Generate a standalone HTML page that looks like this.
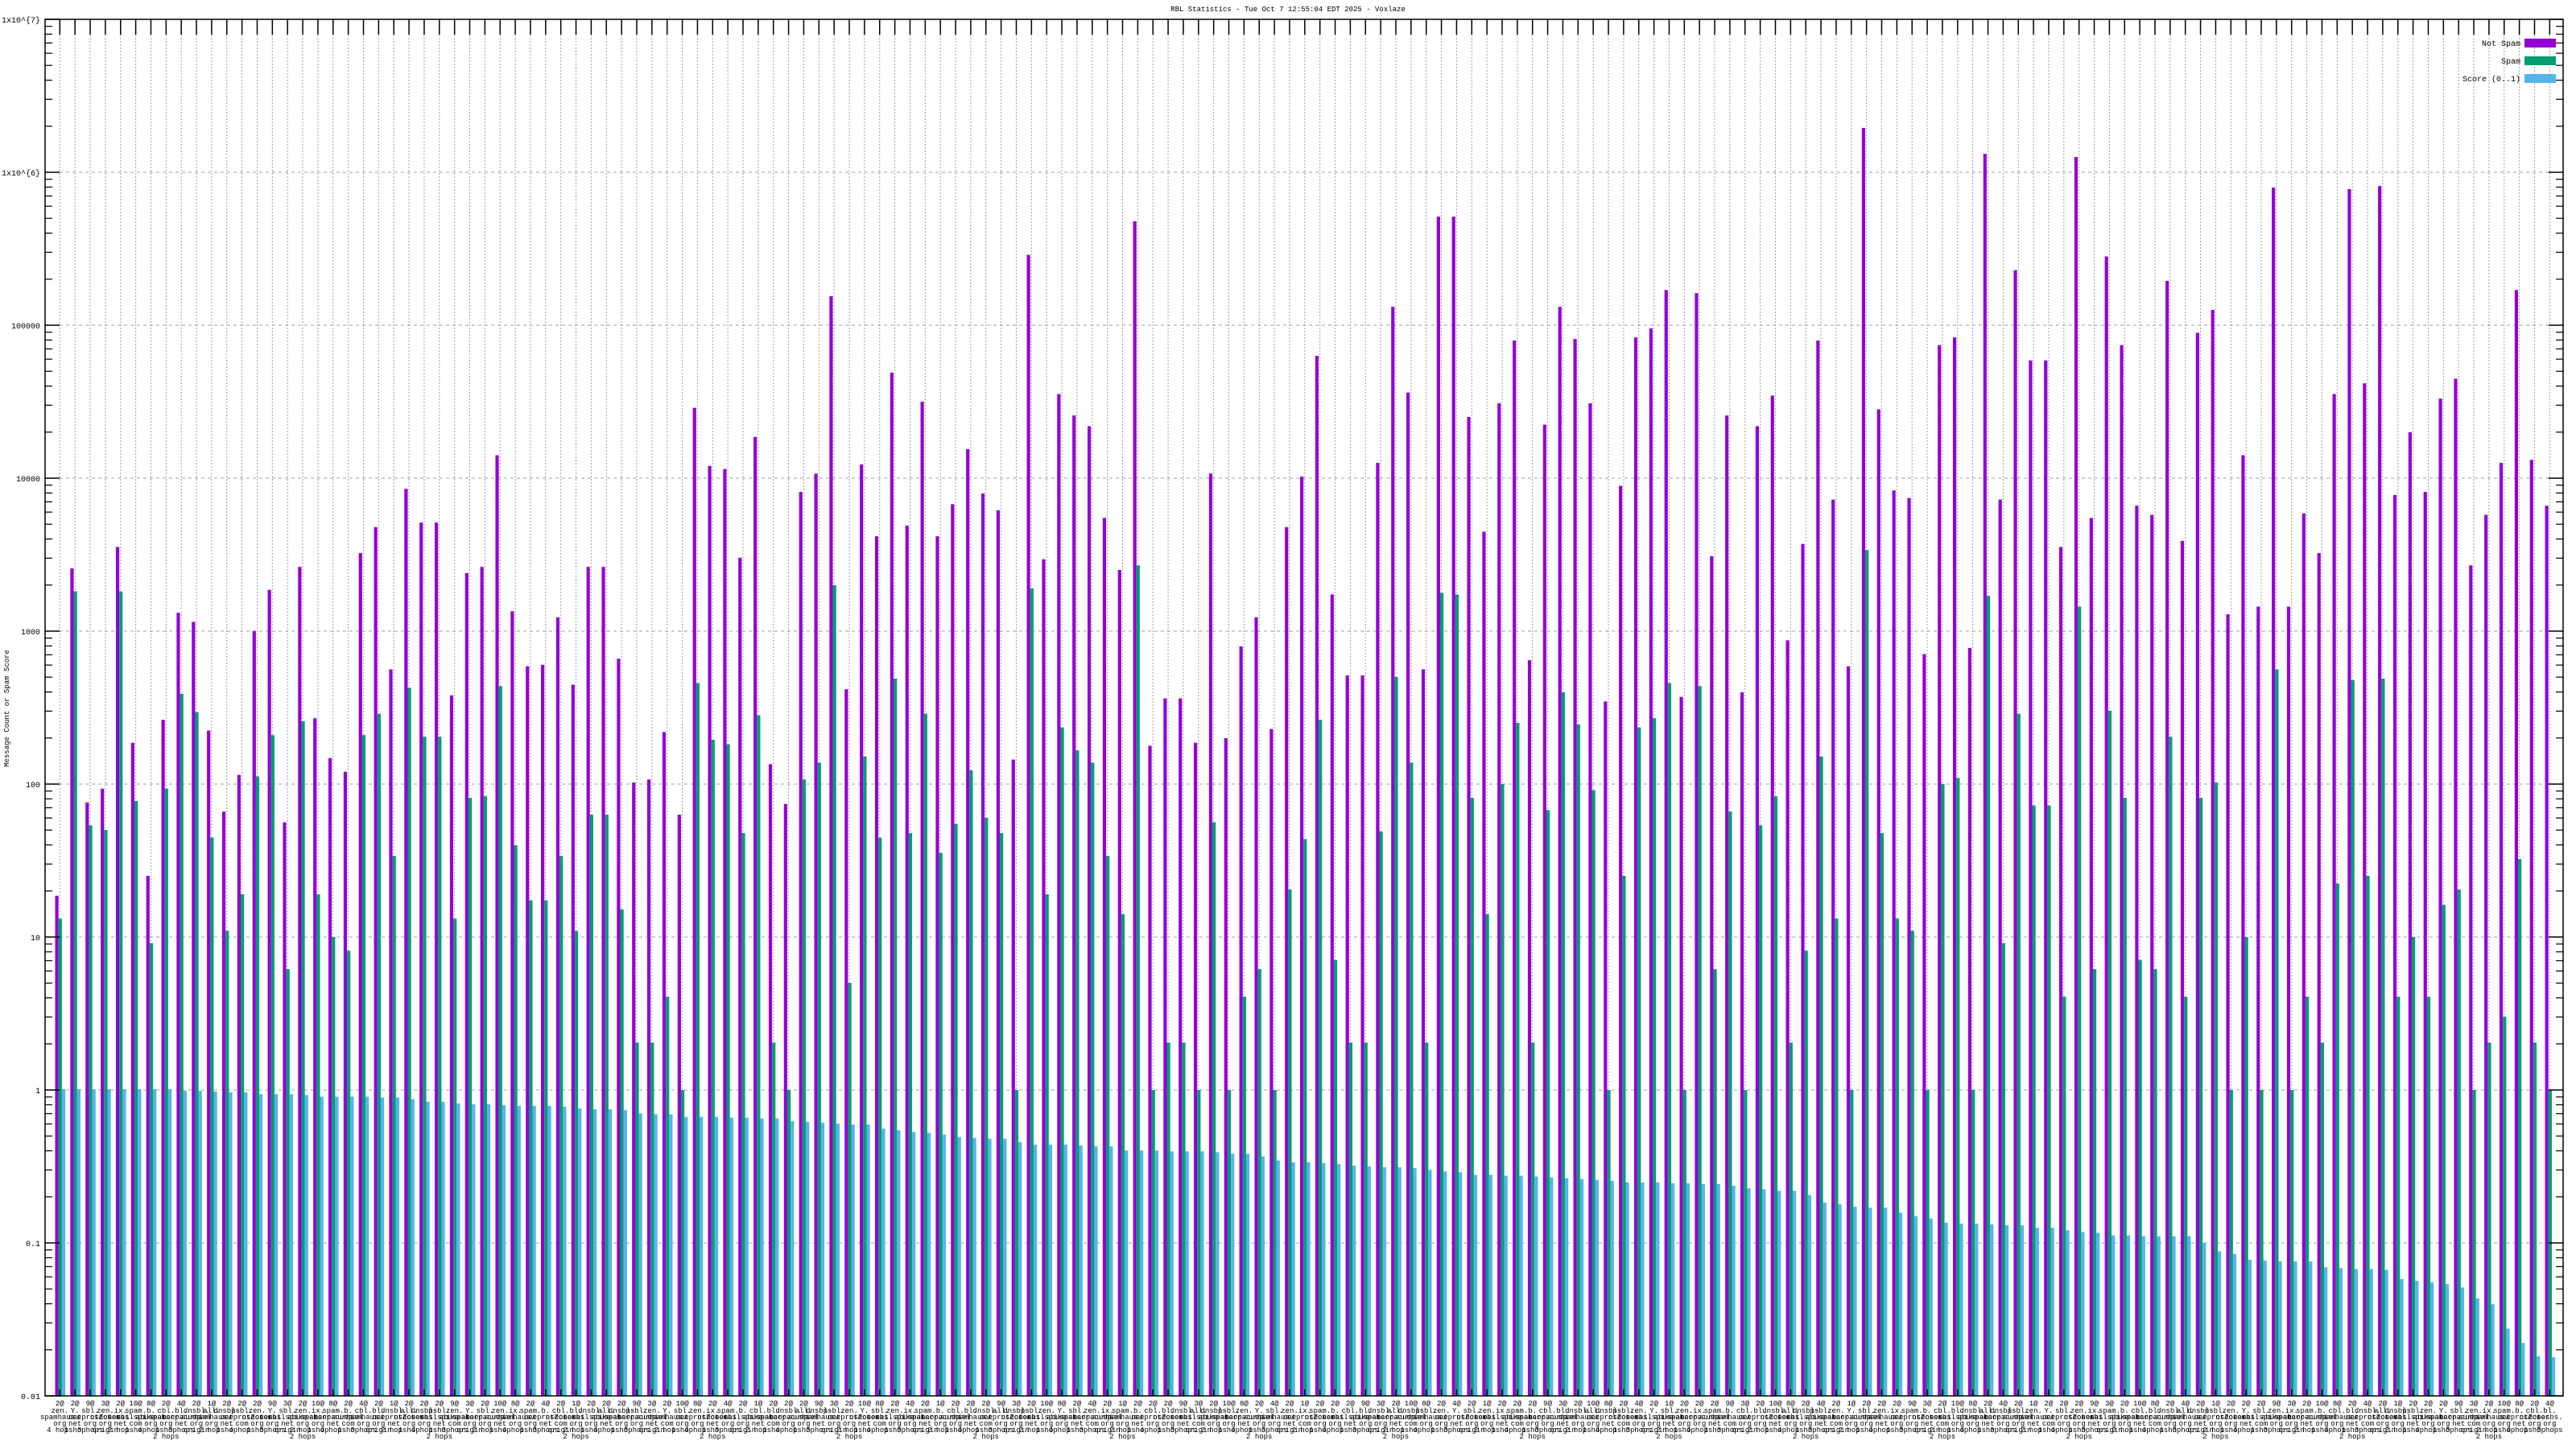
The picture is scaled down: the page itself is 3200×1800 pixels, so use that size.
<!DOCTYPE html>
<html><head><meta charset="utf-8">
<style>
html,body{margin:0;padding:0;background:#fff;}
svg{display:block;}
text{font-family:"Liberation Mono","DejaVu Sans Mono",monospace;}
</style></head>
<body>
<svg id="s" xmlns="http://www.w3.org/2000/svg" width="3200" height="1800" viewBox="0 0 3200 1800">
<rect x="0" y="0" width="3200" height="1800" fill="#fff"/>
<g id="grid"></g>
<g id="bars"></g>
<g id="axes"></g>
<g id="labels"></g>
<text x="1600" y="14" font-size="9" text-anchor="middle">RBL Statistics - Tue Oct  7 12:55:04 EDT 2025 - Voxlaze</text>
<text transform="translate(11,880) rotate(-90)" font-size="9" text-anchor="middle">Message Count or Spam Score</text>
<g font-size="10">
<text x="3131" y="57" text-anchor="end">Not Spam</text>
<rect x="3136" y="48" width="39" height="11" fill="#9400d3"/>
<text x="3131" y="79" text-anchor="end">Spam</text>
<rect x="3136" y="70" width="39" height="11" fill="#009e73"/>
<text x="3131" y="101" text-anchor="end">Score (0..1)</text>
<rect x="3136" y="92" width="39" height="11" fill="#56b4e9"/>
</g>
</svg>
<script>
var P=[1.27,3.41,1.88,1.97,3.55,2.27,1.40,2.42,3.12,3.06,2.35,1.82,2.06,3.0,3.27,1.75,3.42,2.43,2.17,2.08,3.51,
3.68,2.75,3.93,3.71,3.71,2.58,3.38,3.42,4.15,3.13,2.77,2.78,3.09,2.65,3.42,3.42,2.82,2.01,2.03,2.34,1.80,
4.46,4.08,4.06,3.48,4.27,2.13,1.87,3.91,4.03,5.19,2.62,4.09,3.62,4.69,3.69,4.50,3.62,3.83,4.19,3.90,3.79,
2.16,5.46,3.47,4.55,4.41,4.34,3.74,3.40,5.68,2.25,2.56,2.56,2.27,4.03,2.30,2.90,3.09,2.36,3.68,4.01,4.80,
3.24,2.71,2.71,4.10,5.12,4.56,2.75,5.71,5.71,4.40,3.65,4.49,4.90,2.81,4.35,5.12,4.91,4.49,2.54,3.95,4.92,
4.98,5.23,2.57,5.21,3.49,4.41,2.60,4.34,4.54,2.94,3.57,4.90,3.86,2.77,6.29,4.45,3.92,3.87,2.85,4.87,4.92,
2.89,6.12,3.86,5.36,4.77,4.77,3.55,6.10,3.74,5.45,4.87,3.82,3.76,5.29,3.59,4.95,5.10,3.11,4.15,3.16,5.90,
3.16,3.77,3.51,4.55,5.89,4.62,5.91,3.89,4.30,3.91,4.52,4.65,3.43,3.76,4.10,5.23,4.12,3.82];
var G=[1.12,3.26,1.73,1.70,3.26,1.89,0.96,1.97,2.59,2.47,1.65,1.04,1.28,2.05,2.32,0.79,2.41,1.28,1.0,0.91,2.32,
2.46,1.53,2.63,2.31,2.31,1.12,1.91,1.92,2.64,1.60,1.24,1.24,1.53,1.04,1.80,1.80,1.18,0.31,0.31,0.61,0.0,
2.66,2.29,2.26,1.68,2.45,0.31,0.0,2.03,2.14,3.30,0.70,2.18,1.65,2.69,1.68,2.46,1.55,1.74,2.09,1.78,1.68,
0.0,3.28,1.28,2.37,2.22,2.14,1.53,1.15,3.43,0,0.31,0.31,0,1.75,0,0.61,0.79,0,1.31,1.64,2.42,
0.85,0.31,0.31,1.69,2.70,2.14,0.31,3.25,3.24,1.91,1.15,2.0,2.40,0.31,1.83,2.60,2.39,1.96,0,1.40,2.37,
2.43,2.66,0,2.64,0.79,1.82,0,1.73,1.92,0.31,0.91,2.18,1.12,0,3.53,1.68,1.12,1.04,0,2.0,2.04,
0,3.23,0.96,2.46,1.86,1.86,0.61,3.16,0.79,2.48,1.91,0.85,0.79,2.31,0.61,1.91,2.01,0,1.0,0,2.75,
0,0.61,0.31,1.35,2.68,1.40,2.69,0.61,1.0,0.61,1.21,1.31,0,0.31,0.48,1.51,0.31,0];
var By=[1200,1200,1200,1200,1200,1200,1200,1200,1202,1202,1203,1204,1204,1206,1206,1206,1207,1209,1209,1209,1209,
1210,1210,1212,1215,1215,1217,1218,1218,1219,1220,1220,1220,1221,1223,1224,1224,1225,1229,1230,1230,1233,
1233,1233,1234,1234,1235,1235,1238,1239,1240,1241,1242,1242,1247,1249,1251,1252,1254,1257,1258,1259,1259,
1263,1266,1266,1266,1267,1268,1268,1273,1273,1273,1274,1274,1274,1275,1277,1277,1280,1285,1287,1287,1288,
1289,1291,1292,1293,1293,1294,1296,1298,1299,1302,1302,1303,1303,1304,1305,1306,1307,1308,1309,1311,1311,
1311,1312,1312,1313,1313,1315,1318,1319,1321,1321,1326,1335,1337,1340,1341,1341,1347,1351,1354,1359,1360,
1360,1361,1362,1362,1365,1365,1368,1370,1371,1374,1374,1375,1375,1375,1375,1383,1393,1396,1403,1404,1405,
1405,1405,1412,1413,1414,1414,1415,1426,1428,1430,1432,1436,1449,1456,1485,1502,1518,1519];
var NS="http://www.w3.org/2000/svg";
function el(p,t,a,txt){var e=document.createElementNS(NS,t);for(var k in a)e.setAttribute(k,a[k]);if(txt!==undefined)e.textContent=txt;p.appendChild(e);return e;}
var L=56,R=3184,T=24,B=1734;
function Y(l){return 214+(6-l)*190;}
var grid=document.getElementById('grid'),bars=document.getElementById('bars'),axes=document.getElementById('axes'),lab=document.getElementById('labels');
var N=165,sp=18.86,x0=74.3;
// horizontal grid
for(var d=-1;d<=6;d++){var y=Y(d);el(grid,'line',{x1:L+18,y1:y,x2:R-18,y2:y,stroke:'#a0a0a0','stroke-width':1,'stroke-dasharray':'4,4'});}
// vertical grid
for(var i=0;i<N;i++){var c=x0+i*sp;el(grid,'line',{x1:c,y1:T+19,x2:c,y2:B,stroke:'#a0a0a0','stroke-width':1,'stroke-dasharray':'2,2'});}
// bars
for(var i=0;i<N;i++){var c=x0+i*sp;
 var yp=Y(P[i]);el(bars,'rect',{x:c-5.8,y:yp,width:4.2,height:B-yp,fill:'#9400d3'});
 var yg=Y(G[i]);el(bars,'rect',{x:c-1.6,y:yg,width:4.2,height:B-yg,fill:'#009e73'});
 var lb=6-(By[i]-109)/182;var yb=Y(lb);el(bars,'rect',{x:c+2.6,y:yb,width:4.2,height:B-yb,fill:'#56b4e9'});
}
// border
el(axes,'rect',{x:L,y:T,width:R-L,height:B-T,fill:'none',stroke:'#000','stroke-width':1.5});
// y ticks
var ylab=['0.01','0.1','1','10','100','1000','10000','100000','1x10^{6}','1x10^{7}'];
for(var d=-2;d<=7;d++){var y=Y(d);
 el(axes,'line',{x1:L,y1:y,x2:L+18,y2:y,stroke:'#000','stroke-width':1.5});
 el(axes,'line',{x1:R,y1:y,x2:R-18,y2:y,stroke:'#000','stroke-width':1.5});
 el(axes,'text',{x:50,y:y+4,'font-size':10,'text-anchor':'end'},ylab[d+2]);
 if(d<7){for(var m=2;m<=9;m++){var ym=y-Math.log10(m)*190;
  el(axes,'line',{x1:L,y1:ym,x2:L+9,y2:ym,stroke:'#000','stroke-width':1.2});
  el(axes,'line',{x1:R,y1:ym,x2:R-9,y2:ym,stroke:'#000','stroke-width':1.2});}}
}
// x ticks
for(var i=0;i<N;i++){var c=x0+i*sp;
 el(axes,'line',{x1:c,y1:T,x2:c,y2:T+19,stroke:'#000','stroke-width':1.5});
 el(axes,'line',{x1:c,y1:B,x2:c,y2:B-8,stroke:'#000','stroke-width':1.5});
}
// x labels
var l2=['zen.','bl.','zen.','dnsbl-','b.','Y.','dnsbl.','ix.','psbl.','cbl.','sbl.','all.','spam.'];
var l3=['spamhaus.','spamcop.','sorbs.','net','barracuda','mailspike','uceprotect','surriel','abuseat','nsZones'];
var l4=['org','net','org','org','net','com','org'];
var l5=['4 hops','1 hop','2 hops','origin','3 hops','1 hop'];
var cnt=['2@','2@','9@','2@','2@','2@','8@','2@','4@','3@','1@','10@'];
for(var i=0;i<N;i++){var c=x0+i*sp;
 el(lab,'text',{x:c,y:1746,'font-size':9,'text-anchor':'middle'},cnt[(i*7)%cnt.length]);
 el(lab,'text',{x:c,y:1755,'font-size':9,'text-anchor':'middle'},l2[(i*5)%l2.length]);
 el(lab,'text',{x:c,y:1763,'font-size':9,'text-anchor':'middle'},l3[(i*3)%l3.length]);
 el(lab,'text',{x:c,y:1771,'font-size':9,'text-anchor':'middle'},l4[i%l4.length]);
 el(lab,'text',{x:c,y:1779,'font-size':9,'text-anchor':'middle'},l5[(i*5)%l5.length]);
 if(i%9==7)el(lab,'text',{x:c,y:1787,'font-size':9,'text-anchor':'middle'},'2 hops');
}
</script>
</body></html>
